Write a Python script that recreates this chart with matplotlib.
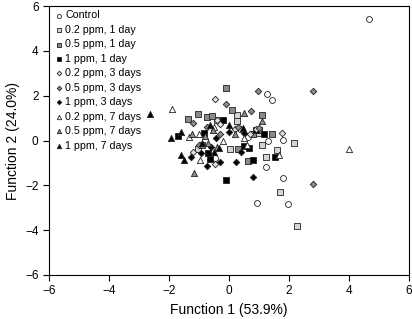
import matplotlib
matplotlib.use('Agg')
import matplotlib.pyplot as plt

plt.rcParams['font.family'] = ['Liberation Sans', 'DejaVu Sans']

# group labels
labels = ['Control', '0.2 ppm, 1 day', '0.5 ppm, 1 day', '1 ppm, 1 day',
          '0.2 ppm, 3 days', '0.5 ppm, 3 days', '1 ppm, 3 days',
          '0.2 ppm, 7 days', '0.5 ppm, 7 days', '1 ppm, 7 days']

# discriminant scores (Function 1, Function 2)
control = [(4.67, 5.44), (1.26, 2.06), (1.42, 1.8), (1.81, 0.02), (1.31, -0.03),
           (1.22, -1.18), (1.81, -1.67), (0.94, -2.79), (1.98, -2.82),
           (-0.46, -0.79), (0.64, 0.17), (0.35, 0.5)]
p02_1d = [(0.28, 1.16), (0.26, 0.86), (2.17, -0.13), (1.11, -0.18), (1.59, -0.43),
          (1.22, -0.75), (1.7, -2.31), (2.26, -3.83), (0.03, -0.4), (0.95, 0.35),
          (-1.05, -0.4), (-0.4, 0.9)]
p05_1d = [(-0.1, 2.33), (0.1, 1.34), (-1.04, 1.19), (-1.38, 0.94), (-0.72, 1.04),
          (-0.56, 1.09), (1.11, 1.12), (1.42, 0.27), (0.64, -0.93), (1.0, 0.45),
          (-0.9, -0.2), (0.3, -0.4), (0.8, 0.3)]
p1_1d = [(-0.19, 0.91), (-1.69, 0.19), (0.9, 0.46), (1.18, 0.31), (1.53, -0.73),
         (0.81, -0.85), (-0.1, -1.74), (-0.63, -0.82), (0.5, -0.25), (0.65, -0.35),
         (-0.7, -0.55), (-0.85, 0.35)]
p02_3d = [(-0.47, 1.87), (1.78, 0.34), (-0.4, 0.9), (-0.3, 0.75), (-0.46, -1.04),
          (0.2, 0.5), (-1.2, -0.5), (0.7, 0.3), (0.9, 0.5)]
p05_3d = [(0.96, 2.2), (-0.1, 1.61), (0.73, 1.31), (2.79, 2.21), (2.79, -1.94),
          (-1.21, 0.76), (-0.75, 0.6), (1.0, 0.55), (-0.3, 0.3), (0.3, 0.6),
          (-1.0, -0.2)]
p1_3d = [(0.23, -0.95), (0.79, -1.63), (-1.27, -0.75), (-0.73, -1.15), (-0.3, -0.97),
         (-0.6, -0.3), (0.4, -0.5), (0.0, 0.4), (-0.95, -0.55), (0.5, 0.35),
         (-0.45, 0.1)]
p02_7d = [(-1.91, 1.39), (4.0, -0.4), (1.67, -0.66), (-1.32, 0.17), (-0.97, -0.85),
          (-0.5, 0.6), (0.5, 0.1), (-0.2, 0.0), (0.6, -0.2), (-1.0, 0.3)]
p05_7d = [(0.5, 1.24), (1.11, 0.86), (-1.17, -1.45), (-0.8, 0.2), (-0.4, -0.3),
          (-0.7, -0.1), (-1.25, 0.3), (0.2, 0.3), (-0.55, 0.45)]
p1_7d = [(-2.63, 1.19), (-1.61, 0.37), (-1.94, 0.12), (-1.61, -0.63), (-1.5, -0.88),
         (-0.65, 0.7), (-0.9, -0.1), (-0.35, -0.35), (0.0, 0.7), (0.45, 0.55),
         (-0.5, -0.5)]

groups = [control, p02_1d, p05_1d, p1_1d, p02_3d, p05_3d, p1_3d, p02_7d, p05_7d, p1_7d]

# marker styles
markers = ['o', 's', 's', 's', 'D', 'D', 'D', '^', '^', '^']
faces = ['white', '#d4d4d4', '#8a8a8a', 'black',
         '#e0e0e0', '#8a8a8a', 'black',
         'white', '#8a8a8a', 'black']
sizes = [18, 24, 24, 24, 11, 11, 11, 20, 20, 20]

fig = plt.figure(figsize=(4.12, 3.19), dpi=100)
ax = fig.add_axes([0.119, 0.138, 0.874, 0.843])

for pts, lab, mk, fc, s in zip(groups, labels, markers, faces, sizes):
    xs = [p[0] for p in pts]
    ys = [p[1] for p in pts]
    ax.scatter(xs, ys, marker=mk, s=s, facecolor=fc, edgecolor='#222222',
               linewidth=0.6, label=lab, zorder=3)

ax.set_xlim(-6, 6)
ax.set_ylim(-6, 6)
ax.set_xticks([-6, -4, -2, 0, 2, 4, 6])
ax.set_yticks([-6, -4, -2, 0, 2, 4, 6])
ax.tick_params(direction='out', length=4, width=0.8, labelsize=8.5)
for sp in ax.spines.values():
    sp.set_linewidth(0.8)
ax.set_xlabel('Function 1 (53.9%)', fontsize=10)
ax.set_ylabel('Function 2 (24.0%)', fontsize=10)

ax.legend(loc='upper left', frameon=False, fontsize=7.7, handletextpad=0.1,
          labelspacing=0.42, borderaxespad=0.2, handlelength=1.0,
          markerscale=0.7, borderpad=0.2)

plt.savefig('out.png', dpi=100)
